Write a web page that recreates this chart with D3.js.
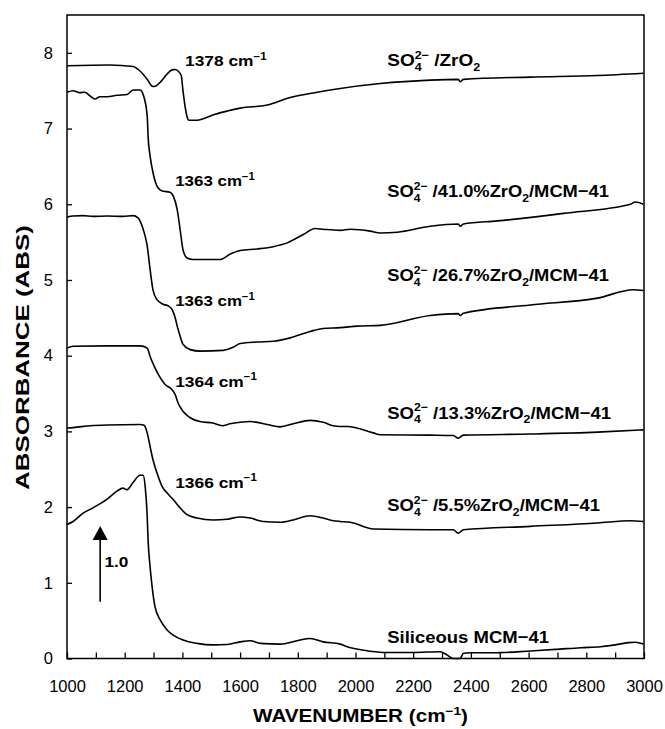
<!DOCTYPE html>
<html>
<head>
<meta charset="utf-8">
<script src="https://cdn.jsdelivr.net/npm/d3@7"></script>
<style>
  html, body { margin: 0; padding: 0; background: #fff; }
  svg { display: block; }
  text { font-family: "Liberation Sans", Arial, Helvetica, sans-serif; fill: #000; }
</style>
</head>
<body>
<svg id="chart" width="665" height="729"></svg>
<script>
// FT-IR spectra (offset) of sulfated zirconia samples, [wavenumber cm−1, absorbance]
const specZrO2 = [
  [1000,7.83],[1149,7.84],[1229,7.82],[1253,7.76],[1278,7.65],[1295,7.56],[1302,7.555],
  [1323,7.61],[1347,7.72],[1364,7.775],[1375,7.78],[1385,7.76],[1396,7.70],[1402,7.50],
  [1409,7.30],[1416,7.16],[1423,7.11],[1451,7.11],[1472,7.13],[1506,7.18],[1555,7.23],
  [1600,7.27],[1694,7.31],[1774,7.41],[1867,7.48],[1947,7.53],[2086,7.595],[2259,7.64],
  [2356,7.65],[2363,7.62],[2374,7.65],[2606,7.68],[2839,7.70],[2998,7.73]
];
const spec41 = [
  [1000,7.48],[1021,7.50],[1045,7.475],[1062,7.48],[1080,7.43],[1097,7.39],[1114,7.42],
  [1139,7.42],[1173,7.44],[1208,7.45],[1229,7.51],[1253,7.51],[1264,7.45],[1278,7.17],
  [1281,6.90],[1288,6.64],[1298,6.42],[1312,6.24],[1330,6.175],[1357,6.16],[1368,6.11],
  [1382,5.93],[1392,5.67],[1402,5.40],[1416,5.29],[1437,5.27],[1531,5.27],[1565,5.34],
  [1600,5.39],[1659,5.41],[1715,5.44],[1763,5.49],[1819,5.60],[1860,5.68],[1888,5.67],
  [1947,5.655],[1982,5.67],[2051,5.645],[2086,5.62],[2145,5.63],[2259,5.71],[2356,5.74],
  [2363,5.71],[2374,5.74],[2492,5.78],[2721,5.88],[2953,6.00],[2970,6.03],[2998,6.00]
];
const spec267 = [
  [1000,5.83],[1021,5.845],[1056,5.85],[1090,5.84],[1139,5.845],[1194,5.84],[1229,5.85],
  [1246,5.82],[1264,5.67],[1278,5.45],[1288,5.14],[1298,4.87],[1312,4.74],[1333,4.68],
  [1350,4.66],[1364,4.61],[1375,4.50],[1382,4.39],[1392,4.26],[1402,4.15],[1427,4.08],
  [1461,4.06],[1541,4.07],[1576,4.11],[1600,4.16],[1659,4.18],[1715,4.19],[1774,4.235],
  [1843,4.32],[1888,4.36],[1947,4.37],[2006,4.39],[2086,4.40],[2259,4.53],[2356,4.555],
  [2363,4.53],[2374,4.56],[2606,4.67],[2839,4.76],[2963,4.87],[2998,4.86]
];
const spec133 = [
  [1000,4.10],[1021,4.125],[1139,4.13],[1253,4.13],[1278,4.10],[1288,3.99],[1305,3.84],
  [1323,3.71],[1340,3.62],[1364,3.55],[1375,3.485],[1385,3.375],[1402,3.265],[1427,3.18],
  [1461,3.13],[1506,3.11],[1538,3.075],[1565,3.10],[1600,3.12],[1635,3.13],[1694,3.09],
  [1739,3.06],[1784,3.10],[1843,3.145],[1888,3.12],[1923,3.075],[1947,3.065],[1971,3.065],
  [2062,2.98],[2086,2.955],[2259,2.95],[2339,2.945],[2356,2.91],[2374,2.95],[2606,2.965],
  [2839,2.99],[2998,3.02]
];
const spec55 = [
  [1000,3.045],[1021,3.05],[1080,3.075],[1139,3.085],[1253,3.09],[1267,3.08],[1278,2.98],
  [1288,2.80],[1298,2.625],[1312,2.45],[1330,2.27],[1347,2.185],[1368,2.10],[1392,1.99],
  [1416,1.90],[1451,1.855],[1506,1.83],[1555,1.84],[1600,1.87],[1635,1.855],[1680,1.81],
  [1739,1.80],[1784,1.83],[1843,1.885],[1888,1.855],[1923,1.82],[1947,1.81],[1982,1.80],
  [2062,1.71],[2259,1.70],[2339,1.70],[2356,1.655],[2374,1.70],[2606,1.745],[2839,1.79],
  [2953,1.82],[2998,1.81]
];
const specSiliceous = [
  [1000,1.77],[1021,1.81],[1056,1.92],[1090,1.99],[1139,2.105],[1173,2.21],[1194,2.25],
  [1208,2.23],[1229,2.325],[1253,2.42],[1264,2.42],[1271,2.27],[1278,1.875],[1281,1.57],
  [1288,1.21],[1295,0.95],[1305,0.685],[1323,0.51],[1347,0.377],[1368,0.31],[1402,0.245],
  [1451,0.20],[1506,0.18],[1555,0.185],[1600,0.22],[1635,0.235],[1670,0.20],[1739,0.19],
  [1798,0.235],[1843,0.265],[1888,0.22],[1947,0.19],[1971,0.155],[2027,0.11],[2096,0.08],
  [2200,0.08],[2294,0.09],[2318,0.045],[2339,0.0],[2363,0.0],[2374,0.07],[2398,0.075],
  [2502,0.077],[2606,0.10],[2693,0.12],[2780,0.143],[2849,0.156],[2901,0.18],[2946,0.21],
  [2970,0.215],[2998,0.19]
];

const spectra = [specZrO2, spec41, spec267, spec133, spec55, specSiliceous];
const sampleNames = [
  "SO₄²⁻ /ZrO₂",
  "SO₄²⁻ /41.0%ZrO₂/MCM−41",
  "SO₄²⁻ /26.7%ZrO₂/MCM−41",
  "SO₄²⁻ /13.3%ZrO₂/MCM−41",
  "SO₄²⁻ /5.5%ZrO₂/MCM−41",
  "Siliceous MCM−41"
];
const peakBands = [1378, 1363, 1363, 1364, 1366];
const xTickValues = d3.range(1000, 3001, 100);
const xTickLabels = [1000, 1200, 1400, 1600, 1800, 2000, 2200, 2400, 2600, 2800, 3000];
const yTickLabels = [0, 1, 2, 3, 4, 5, 6, 7, 8];
const scaleBar = 1.0;

// ---- layout ----
const svg = d3.select("#chart");
const plotL = 67, plotR = 644, plotT = 15, plotB = 658.5;
const x = d3.scaleLinear().domain([1000, 3000]).range([plotL, plotR]);
const y = d3.scaleLinear().domain([0, 8.5]).range([plotB, plotT]);

// Axes: ticks point into the plot
const xAxis = d3.axisBottom(x)
  .tickValues(xTickValues)
  .tickSize(-6)
  .tickPadding(22)
  .tickFormat(d => xTickLabels.includes(d) ? String(d) : "");
const gx = svg.append("g").attr("transform", `translate(0,${plotB})`).call(xAxis);

const yAxis = d3.axisLeft(y)
  .tickValues(yTickLabels)
  .tickSize(-5)
  .tickPadding(14)
  .tickFormat(d3.format("d"));
const gy = svg.append("g").attr("transform", `translate(${plotL},0)`).call(yAxis);

[gx, gy].forEach(g => {
  g.select(".domain").remove();
  g.selectAll(".tick line").attr("stroke", "#000").attr("stroke-width", 1.3);
  g.selectAll(".tick text")
    .attr("fill", "#000")
    .style("font-size", "16.5px")
    .style("font-family", '"Liberation Sans", Arial, sans-serif');
});

// Plot frame
svg.append("rect")
  .attr("x", plotL).attr("y", plotT)
  .attr("width", plotR - plotL).attr("height", plotB - plotT)
  .attr("fill", "none").attr("stroke", "#000").attr("stroke-width", 1.5);

// Spectra
const line = d3.line()
  .x(d => x(d[0]))
  .y(d => y(d[1]))
  .curve(d3.curveMonotoneX);

svg.append("g")
  .selectAll("path")
  .data(spectra)
  .join("path")
  .attr("d", line)
  .attr("fill", "none")
  .attr("stroke", "#000")
  .attr("stroke-width", 1.6)
  .attr("stroke-linejoin", "round");

// ---- rich text: unicode sub/superscripts become shifted tspans ----
const SUB = { "₀":"0","₁":"1","₂":"2","₃":"3","₄":"4","₅":"5","₆":"6","₇":"7","₈":"8","₉":"9" };
const SUP = { "⁰":"0","¹":"1","²":"2","³":"3","⁴":"4","⁵":"5","⁶":"6","⁷":"7","⁸":"8","⁹":"9","⁻":"−" };

function richText(textSel, str, fs) {
  const runs = [];
  for (const ch of str) {
    const kind = SUB[ch] ? "sub" : SUP[ch] ? "sup" : "norm";
    const c = SUB[ch] || SUP[ch] || ch;
    if (runs.length && runs[runs.length - 1].kind === kind) runs[runs.length - 1].t += c;
    else runs.push({ kind, t: c });
  }
  let cur = 0, prevSubWidth = 0, prevKind = null;
  runs.forEach(r => {
    const target = r.kind === "sub" ? 0.28 * fs : r.kind === "sup" ? -0.42 * fs : 0;
    const ts = textSel.append("tspan").text(r.t).attr("dy", target - cur);
    cur = target;
    if (r.kind !== "norm") ts.style("font-size", (0.66 * fs) + "px");
    if (r.kind === "sup" && prevKind === "sub") ts.attr("dx", -prevSubWidth);
    if (r.kind === "sub") prevSubWidth = ts.node().getComputedTextLength();
    prevKind = r.kind;
  });
}

// Draws bold text at baseline (px, py) and stretches it to a given width
function label(str, px, py, fs, width, anchor) {
  const g = svg.append("g").attr("transform", `translate(${px},${py})`);
  const t = g.append("text")
    .style("font-size", fs + "px")
    .style("font-weight", "bold")
    .attr("text-anchor", anchor || "start");
  richText(t, str, fs);
  const w = t.node().getBBox().width;
  t.attr("transform", `scale(${width / w},1)`);
  return g;
}

// Peak position labels
const peakLabelPos = [[1409, 7.82], [1375, 6.24], [1375, 4.65], [1375, 3.59], [1375, 2.255]];
const peakLabelWidth = [82, 80, 80, 82, 82];
peakBands.forEach((b, i) => {
  label(`${b} cm⁻¹`, x(peakLabelPos[i][0]), y(peakLabelPos[i][1]), 15.5, peakLabelWidth[i]);
});

// Sample labels
const nameAnchorWn = 2110;
const nameBaseline = [7.82, 6.09, 4.98, 3.17, 1.95, 0.205];
const nameWidth = [93, 222, 222, 224, 213, 162];
sampleNames.forEach((n, i) => {
  label(n, x(nameAnchorWn), y(nameBaseline[i]), 17, nameWidth[i]);
});

// Absorbance scale bar (arrow of 1.0 units)
const barWn = 1115, barFrom = 0.75;
const tipY = y(barFrom + scaleBar), baseY = y(barFrom), headLen = 14, headHalf = 7.5;
svg.append("line")
  .attr("x1", x(barWn)).attr("x2", x(barWn))
  .attr("y1", baseY).attr("y2", tipY + headLen - 1)
  .attr("stroke", "#000").attr("stroke-width", 1.6);
svg.append("path")
  .attr("d", `M${x(barWn)},${tipY} L${x(barWn) - headHalf},${tipY + headLen} L${x(barWn) + headHalf},${tipY + headLen} Z`)
  .attr("fill", "#000");
label(scaleBar.toFixed(1), x(1130), y(1.21), 15.5, 24);

// Axis titles
label("WAVENUMBER (cm⁻¹)", (plotL + plotR) / 2 + 5, 722, 17.5, 215, "middle");

const yt = svg.append("g").attr("transform", `translate(29,357.5) rotate(-90)`);
const ytText = yt.append("text")
  .style("font-size", "18.5px").style("font-weight", "bold")
  .attr("text-anchor", "middle")
  .text("ABSORBANCE (ABS)");
const ytw = ytText.node().getBBox().width;
ytText.attr("transform", `scale(${265 / ytw},1)`);
</script>
</body>
</html>
